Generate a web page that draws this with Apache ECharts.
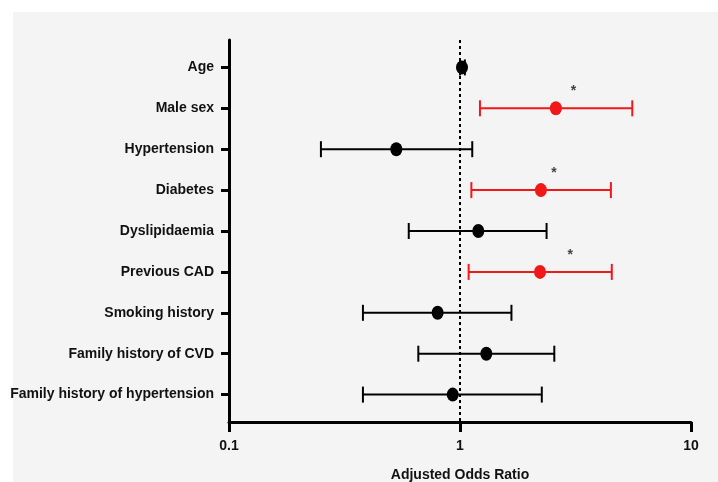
<!DOCTYPE html>
<html lang="en">
<head>
    <meta charset="utf-8">
    <title>Adjusted Odds Ratio</title>
    <style>
        html, body { margin: 0; padding: 0; background: #fff; }
        #main { width: 718px; height: 482px; }
    </style>
    <script src="https://cdn.jsdelivr.net/npm/echarts@6/dist/echarts.min.js"></script>
</head>
<body>
<div id="main"></div>
<script type="text/javascript">
    // 变量名称（从上到下）
    var factors = ['Age', 'Male sex', 'Hypertension', 'Diabetes', 'Dyslipidaemia',
        'Previous CAD', 'Smoking history', 'Family history of CVD', 'Family history of hypertension'];
    // 调整后的比值比及95%置信区间
    var oddsRatio = [1.02, 2.60, 0.53, 2.24, 1.20, 2.22, 0.80, 1.30, 0.93];
    var ciLow     = [1.00, 1.22, 0.25, 1.12, 0.60, 1.09, 0.38, 0.66, 0.38];
    var ciHigh    = [1.05, 5.57, 1.13, 4.50, 2.37, 4.54, 1.67, 2.56, 2.26];
    // 显著性 (1 = 红色, 带星号)
    var significant = [0, 1, 0, 1, 0, 1, 0, 0, 0];
    var starX = [null, 3.1, null, 2.55, null, 3.0, null, null, null];
    var xTicks = [0.1, 1, 10];

    var FONT = '"Liberation Sans", Arial, sans-serif';
    var RED = '#f01818';

    var chart = echarts.init(document.getElementById('main'));

    var blackDots = [], redDots = [], bars = [], stars = [];
    for (let i = 0; i < factors.length; i++) {
        if (significant[i]) {
            redDots.push([oddsRatio[i], i]);
            stars.push([starX[i], i - 0.42]);
        } else {
            blackDots.push([oddsRatio[i], i]);
        }
        bars.push([ciLow[i], ciHigh[i], i, significant[i]]);
    }

    let option = {
        animation: false,
        graphic: [{
            type: 'rect',
            shape: { x: 13, y: 12, width: 705, height: 470 },
            style: { fill: '#f4f4f4' },
            z: -10,
            silent: true
        }],
        grid: { left: 229, right: 27, top: 40, bottom: 60, outerBoundsMode: 'none', containLabel: false },
        xAxis: {
            type: 'log',
            logBase: 10,
            min: 0.1,
            max: 10,
            name: 'Adjusted Odds Ratio',
            nameLocation: 'middle',
            nameGap: 46,
            nameTextStyle: { color: '#111', fontFamily: FONT, fontWeight: 'bold', fontSize: 14 },
            axisLine: { show: true, onZero: false, lineStyle: { color: '#000', width: 3 } },
            axisTick: { show: true, length: 10, lineStyle: { color: '#000', width: 3 } },
            minorTick: { show: false },
            splitLine: { show: false },
            axisLabel: {
                color: '#111', fontFamily: FONT, fontWeight: 'bold', fontSize: 14, margin: 17,
                formatter: function (v) {
                    for (let t of xTicks) {
                        if (Math.abs(v - t) < t * 1e-6) return String(t);
                    }
                    return '';
                }
            }
        },
        yAxis: {
            type: 'value',
            inverse: true,
            min: -0.67,
            max: 8.67,
            axisLine: { show: true, onZero: false, lineStyle: { color: '#000', width: 3 } },
            axisTick: {
                show: true, length: 8, lineStyle: { color: '#000', width: 3 },
                customValues: factors.map(function (f, i) { return i; })
            },
            splitLine: { show: false },
            axisLabel: {
                color: '#111', fontFamily: FONT, fontWeight: 'bold', fontSize: 14, margin: 15,
                customValues: factors.map(function (f, i) { return i; }),
                formatter: function (v) { return factors[Math.round(v)]; }
            }
        },
        series: [
            {
                type: 'custom',
                data: bars,
                z: 2,
                renderItem: function (params, api) {
                    var y = api.value(2);
                    var a = api.coord([api.value(0), y]);
                    var b = api.coord([api.value(1), y]);
                    var c = api.value(3) ? RED : '#000';
                    var h = 8;
                    var st = { stroke: c, lineWidth: 2 };
                    return {
                        type: 'group',
                        children: [
                            { type: 'line', shape: { x1: a[0], y1: a[1], x2: b[0], y2: b[1] }, style: st },
                            { type: 'line', shape: { x1: a[0], y1: a[1] - h, x2: a[0], y2: a[1] + h }, style: st },
                            { type: 'line', shape: { x1: b[0], y1: b[1] - h, x2: b[0], y2: b[1] + h }, style: st }
                        ]
                    };
                },
                markLine: {
                    silent: true,
                    symbol: 'none',
                    label: { show: false },
                    lineStyle: { color: '#000', width: 2, type: [3, 3] },
                    data: [{ xAxis: 1 }]
                }
            },
            {
                type: 'scatter',
                data: blackDots,
                symbol: 'circle',
                symbolSize: [12, 14],
                itemStyle: { color: '#000', opacity: 1 },
                z: 3
            },
            {
                type: 'scatter',
                data: redDots,
                symbol: 'circle',
                symbolSize: [12, 14],
                itemStyle: { color: RED, opacity: 1 },
                z: 3
            },
            {
                type: 'scatter',
                data: stars,
                symbolSize: 0,
                label: {
                    show: true, position: 'inside', formatter: '*',
                    color: '#111', fontFamily: FONT, fontWeight: 'bold', fontSize: 14
                },
                z: 4
            }
        ]
    };
    chart.setOption(option);
</script>
</body>
</html>
